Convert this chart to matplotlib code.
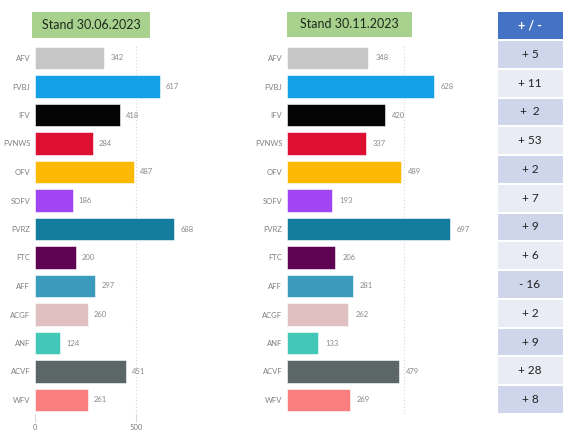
import matplotlib.pyplot as plt
from matplotlib.patches import Rectangle

plt.rcParams['font.family'] = ['Lato', 'DejaVu Sans']

# data
clubs = ['AFV', 'FVBJ', 'IFV', 'FVNWS', 'OFV', 'SOFV', 'FVRZ', 'FTC',
         'AFF', 'ACGF', 'ANF', 'ACVF', 'WFV']
stand_juni = [342, 617, 418, 284, 487, 186, 688, 200, 297, 260, 124, 451, 261]
stand_nov = [348, 628, 420, 337, 489, 193, 697, 206, 281, 262, 133, 479, 269]
diff_labels = ['+ 5', '+ 11', '+  2', '+ 53', '+ 2', '+ 7', '+ 9', '+ 6',
               '- 16', '+ 2', '+ 9', '+ 28', '+ 8']
colors = ['#c6c6c6', '#14a0e6', '#050505', '#de1031', '#fdb902', '#a144f2',
          '#147c9c', '#5e0352', '#3a9bbd', '#dfbfc0', '#43c7b7', '#5b6667',
          '#fb7f7f']
titles = ['Stand 30.06.2023', 'Stand 30.11.2023']

W, H = 563, 430
fig = plt.figure(figsize=(W / 100, H / 100), dpi=100)


def fx(px):
    return px / W


def fy(py):
    return 1 - py / H


def panel(x0, scale, values, show_ticks):
    xmax = 750
    top, bottom = 43.75, 414.25
    ax = fig.add_axes([fx(x0), fy(bottom), fx(scale * xmax), (bottom - top) / H])
    y = range(len(clubs))
    ax.barh(y, values, height=0.78, color=colors, edgecolor='white', linewidth=0.4)
    ax.set_ylim(len(clubs) - 0.5, -0.5)
    ax.set_xlim(0, xmax)
    ax.set_yticks(list(y))
    ax.set_yticklabels(clubs, fontsize=5.5, color='#808080')
    ax.tick_params(axis='y', length=0, pad=3.5)
    for s in ax.spines.values():
        s.set_visible(False)
    ax.axvline(500, color='#d8d8d8', lw=0.8, ls=(0, (1, 2)), zorder=0)
    for i, v in enumerate(values):
        ax.text(v + 30, i, str(v), va='center', ha='left', fontsize=5.5, color='#8a8a8a')
    if show_ticks:
        ax.set_xticks([0, 500])
        ax.set_xticklabels(['0', '500'], fontsize=5.5, color='#808080')
        ax.tick_params(axis='x', length=6, color='#d8d8d8', pad=1, direction='out')
    else:
        ax.set_xticks([])
    ax.patch.set_alpha(0)
    return ax


panel(35, 0.2026, stand_juni, True)
panel(287, 0.234, stand_nov, False)

# title boxes
for (x0, x1, y0, y1), title in zip([(32, 150, 12, 38), (287, 412, 12, 37)], titles):
    fig.patches.append(Rectangle((fx(x0), fy(y1)), fx(x1 - x0), (y1 - y0) / H,
                                 transform=fig.transFigure, facecolor='#a9d18e',
                                 edgecolor='none'))
    fig.text(fx((x0 + x1) / 2), fy((y0 + y1) / 2), title, ha='center', va='center',
             fontsize=9, color='#1c2a1c')

# difference table
tx0, tx1 = 498, 570
fig.patches.append(Rectangle((fx(tx0), fy(39)), fx(tx1 - tx0), 27 / H,
                             transform=fig.transFigure, facecolor='#4472c4',
                             edgecolor='none'))
fig.text(fx(530), fy(25.5), '+ / -', ha='center', va='center', fontsize=9,
         color='white', fontweight='bold')
row_h = (414 - 40) / len(diff_labels)
for i, lab in enumerate(diff_labels):
    ry0 = 40 + i * row_h
    c = '#cfd5ea' if i % 2 == 0 else '#e9ebf5'
    fig.patches.append(Rectangle((fx(tx0), fy(ry0 + row_h - 1)), fx(tx1 - tx0),
                                 (row_h - 2) / H, transform=fig.transFigure,
                                 facecolor=c, edgecolor='none'))
    fig.text(fx(530), fy(ry0 + row_h / 2), lab, ha='center', va='center',
             fontsize=8.5, color='#222222')

fig.savefig('out.png', dpi=100)
